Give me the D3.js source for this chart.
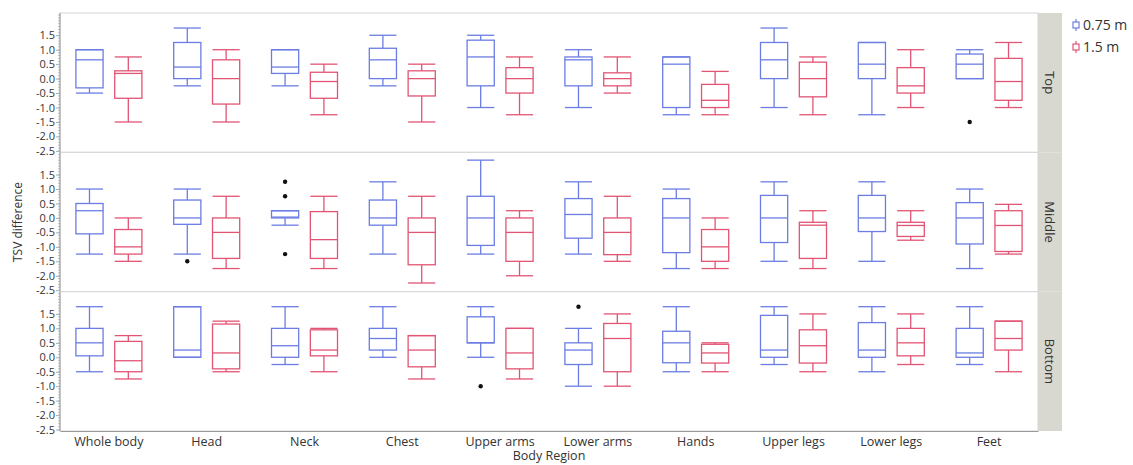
<!DOCTYPE html>
<html>
<head>
<meta charset="utf-8">
<script src="https://cdn.jsdelivr.net/npm/d3@7"></script>
<style>
  body { margin: 0; background: #fff; }
  text { font-family: "Open Sans", "Noto Sans", sans-serif; fill: #333; }
</style>
</head>
<body>
<svg id="chart" width="1133" height="465"></svg>
<script>
'use strict';

var regions = ["Whole body", "Head", "Neck", "Chest", "Upper arms", "Lower arms",
               "Hands", "Upper legs", "Lower legs", "Feet"];
var heights = ["Top", "Middle", "Bottom"];
var distances = ["0.75 m", "1.5 m"];
var yTicks = [1.5, 1.0, 0.5, 0.0, -0.5, -1.0, -1.5, -2.0, -2.5];

// [lower whisker, q1, median, q3, upper whisker] per body region
var top075 = [[-0.5,-0.32,0.65,1.0,1.0], [-0.25,0,0.4,1.25,1.75], [-0.25,0.18,0.4,1.0,1.0],
  [-0.25,0,0.65,1.05,1.5], [-1.0,-0.25,0.75,1.33,1.5], [-1.0,-0.25,0.65,0.75,1.0],
  [-1.25,-1.0,0.5,0.75,0.75], [-1.0,0,0.65,1.25,1.75], [-1.25,0,0.5,1.25,1.25],
  [0,0,0.5,0.85,1.0]];
var top15 = [[-1.5,-0.68,0.18,0.27,0.75], [-1.5,-0.88,0,0.65,1.0], [-1.25,-0.68,-0.1,0.22,0.5],
  [-1.5,-0.6,0,0.27,0.5], [-1.25,-0.5,0,0.38,0.75], [-0.5,-0.25,0,0.2,0.75],
  [-1.25,-1.0,-0.75,-0.2,0.25], [-1.25,-0.63,0,0.57,0.75], [-1.0,-0.5,-0.25,0.38,1.0],
  [-1.0,-0.75,-0.1,0.7,1.25]];
var middle075 = [[-1.25,-0.55,0.25,0.5,1.0], [-1.25,-0.22,0,0.62,1.0], [-0.25,0,0.03,0.25,0.25],
  [-1.25,-0.25,0,0.62,1.25], [-1.25,-0.95,0,0.75,2.0], [-1.25,-0.7,0.12,0.67,1.25],
  [-1.75,-1.2,0,0.67,1.0], [-1.5,-0.85,0,0.78,1.25], [-1.5,-0.47,0,0.78,1.25],
  [-1.75,-0.9,0,0.53,1.0]];
var middle15 = [[-1.5,-1.25,-1.0,-0.4,0], [-1.75,-1.4,-0.5,0,0.75], [-1.75,-1.4,-0.75,0.22,0.75],
  [-2.25,-1.62,-0.5,0,0.75], [-2.0,-1.5,-0.5,0,0.25], [-1.5,-1.27,-0.5,0,0.75],
  [-1.75,-1.5,-1.0,-0.4,0], [-1.75,-1.4,-0.25,-0.15,0.25], [-0.77,-0.64,-0.26,-0.15,0.25],
  [-1.25,-1.16,-0.26,0.25,0.47]];
var bottom075 = [[-0.5,0.05,0.5,1.0,1.75], [0,0,0.25,1.75,1.75], [-0.25,0,0.4,1.0,1.75],
  [0,0.25,0.65,1.0,1.75], [0,0.5,0.5,1.4,1.75], [-1.0,-0.25,0.25,0.5,1.0],
  [-0.5,-0.19,0.5,0.9,1.75], [-0.25,0,0.25,1.45,1.75], [-0.5,0,0.25,1.2,1.75],
  [-0.25,0,0.15,1.0,1.75]];
var bottom15 = [[-0.75,-0.5,-0.12,0.55,0.75], [-0.5,-0.4,0.15,1.15,1.25], [-0.5,0.05,0.25,0.95,1.0],
  [-0.75,-0.33,0.25,0.75,0.75], [-0.75,-0.4,0.15,1.0,1.0], [-1.0,-0.5,0.65,1.17,1.5],
  [-0.5,-0.2,0.15,0.45,0.5], [-0.5,-0.2,0.4,0.95,1.5], [-0.25,0.05,0.5,1.0,1.5],
  [-0.5,0.25,0.65,1.25,1.25]];

// outliers: [height, region, distance, value]
var outliers = [
  ["Top", "Feet", "0.75 m", -1.5],
  ["Middle", "Head", "0.75 m", -1.5],
  ["Middle", "Neck", "0.75 m", 1.25],
  ["Middle", "Neck", "0.75 m", 0.75],
  ["Middle", "Neck", "0.75 m", -1.25],
  ["Bottom", "Upper arms", "0.75 m", -1.0],
  ["Bottom", "Lower arms", "0.75 m", 1.75]
];

var boxData = {
  "Top": [top075, top15],
  "Middle": [middle075, middle15],
  "Bottom": [bottom075, bottom15]
};

var colors = { "0.75 m": "#6b7de3", "1.5 m": "#e25474" };

var left = 60, right = 1038, topY = 13, bottomY = 431;
var svg = d3.select("#chart");

var x = d3.scaleBand().domain(regions).range([left, right]);
var sub = d3.scaleBand().domain(distances).range([-33, 33]).paddingInner(0.3).paddingOuter(0);
var row = d3.scaleBand().domain(heights).range([topY, bottomY]);

heights.forEach(function(h) {
  var y0 = row(h), y1 = y0 + row.bandwidth();
  var y = d3.scaleLinear().domain([-2.55, 2.27]).range([y1, y0]);
  var g = svg.append("g");

  g.append("rect")
    .attr("x", left).attr("y", y0)
    .attr("width", right - left).attr("height", row.bandwidth())
    .attr("fill", "#fff").attr("stroke", "#d6d6d6");

  // strip on the right
  svg.append("rect")
    .attr("x", right).attr("y", y0)
    .attr("width", 24).attr("height", row.bandwidth())
    .attr("fill", "#d8d8d0");
  svg.append("text")
    .attr("transform", "translate(" + (right + 7) + "," + ((y0 + y1) / 2) + ") rotate(90)")
    .attr("text-anchor", "middle")
    .style("font-size", "13px")
    .text(h);

  // y axis
  var axis = d3.axisLeft(y).tickValues(yTicks).tickSize(4);
  var ag = g.append("g").attr("transform", "translate(" + left + ",0)").call(axis);
  ag.select(".domain").remove();
  ag.selectAll("line").attr("stroke", "#aaa");
  ag.selectAll("text").style("font-size", "11px").attr("fill", "#333").attr("x", -5)
    .text(function(d) { return d3.format(".1f")(d).replace("−", "-"); });
  var minor = d3.range(-25, 23).map(function(d) { return d / 10; });
  g.selectAll(".minor").data(minor).enter().append("line")
    .attr("x1", left - 2).attr("x2", left)
    .attr("y1", function(d) { return y(d); }).attr("y2", function(d) { return y(d); })
    .attr("stroke", "#bbb");
  g.append("line").attr("x1", left).attr("x2", left).attr("y1", y0).attr("y2", y1)
    .attr("stroke", "#999");

  // boxes
  boxData[h].forEach(function(series, si) {
    var dist = distances[si];
    var w = sub.bandwidth();
    series.forEach(function(s, ri) {
      var cx = x(regions[ri]) + x.bandwidth() / 2 + sub(dist);
      var bg = g.append("g").attr("stroke", colors[dist]).attr("stroke-width", 1.3).attr("fill", "none");
      bg.append("line").attr("x1", cx + w / 2).attr("x2", cx + w / 2)
        .attr("y1", y(s[4])).attr("y2", y(s[3]));
      bg.append("line").attr("x1", cx + w / 2).attr("x2", cx + w / 2)
        .attr("y1", y(s[1])).attr("y2", y(s[0]));
      bg.append("line").attr("x1", cx).attr("x2", cx + w).attr("y1", y(s[4])).attr("y2", y(s[4]));
      bg.append("line").attr("x1", cx).attr("x2", cx + w).attr("y1", y(s[0])).attr("y2", y(s[0]));
      bg.append("rect").attr("x", cx).attr("y", y(s[3]))
        .attr("width", w).attr("height", Math.max(0.5, y(s[1]) - y(s[3])));
      bg.append("line").attr("x1", cx).attr("x2", cx + w).attr("y1", y(s[2])).attr("y2", y(s[2]));
    });
  });

  g.selectAll(".out").data(outliers.filter(function(o) { return o[0] === h; }))
    .enter().append("circle")
    .attr("cx", function(o) { return x(o[1]) + x.bandwidth() / 2 + sub(o[2]) + sub.bandwidth() / 2; })
    .attr("cy", function(o) { return y(o[3]); })
    .attr("r", 2.2).attr("fill", "#111");
});

// x axis
var xg = svg.append("g").attr("transform", "translate(0," + bottomY + ")")
  .call(d3.axisBottom(x).tickSize(0));
xg.select(".domain").attr("stroke", "#999");
xg.selectAll("text").style("font-size", "12.5px").attr("fill", "#333").attr("dy", "0.95em");

svg.append("text").attr("x", (left + right) / 2).attr("y", 460)
  .attr("text-anchor", "middle").style("font-size", "12.5px").text("Body Region");

svg.append("text")
  .attr("transform", "translate(22," + (row("Middle") + row.bandwidth() / 2) + ") rotate(-90)")
  .attr("text-anchor", "middle").style("font-size", "12px").text("TSV difference");

// legend
distances.forEach(function(d, i) {
  var ly = 25 + i * 22;
  var lg = svg.append("g").attr("stroke", colors[d]).attr("fill", "none").attr("stroke-width", 1.2);
  lg.append("line").attr("x1", 1076).attr("x2", 1076).attr("y1", ly - 6).attr("y2", ly + 6);
  lg.append("rect").attr("x", 1073).attr("y", ly - 3).attr("width", 6).attr("height", 6).attr("fill", "#fff");
  svg.append("text").attr("x", 1083).attr("y", ly + 5).style("font-size", "14px").text(d);
});
</script>
</body>
</html>
